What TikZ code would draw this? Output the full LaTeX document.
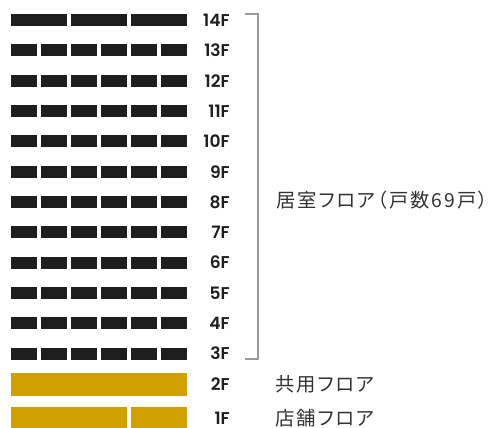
\documentclass[tikz,border=0pt]{standalone}
\usepackage{fontspec}
\setmainfont{Poppins}
\newfontfamily\labelfont{Poppins SemiBold}
\newfontfamily\jpfont[RawFeature=+palt,LetterSpace=10]{Noto Sans CJK JP}
\definecolor{bar_black}{HTML}{1E1E1E}
\definecolor{bar_gold}{HTML}{CFA000}
\definecolor{bracket_gray}{HTML}{9A9A9A}
\definecolor{text_gray}{HTML}{333333}

\begin{document}
\begin{tikzpicture}[x=0.75pt,y=-0.75pt,
    floorlabel/.style={anchor=east,inner sep=0pt,text=bar_black,font=\labelfont\fontsize{12.8}{12.8}\selectfont},
    zonelabel/.style={anchor=west,inner sep=0pt,text=text_gray,font=\jpfont\fontsize{14.5}{14.5}\selectfont}]
    \useasboundingbox (0,0) rectangle (496,428);
    % Etages 3F-13F
    \foreach \f in {3,...,13} {
        \pgfmathsetmacro{\yc}{353.5-(\f-3)*30.3}
        \foreach \i in {0,...,5}
            \fill[bar_black] (11+\i*30,\yc-6) rectangle ++(25.7,12);
        \node[floorlabel] (f\f) at (230,\yc) {\f F};
    }
    % Etage 14F
    \foreach \i in {0,1,2}
        \fill[bar_black] (11+\i*60,14) rectangle ++(55.7,12);
    \node[floorlabel] (f14) at (230,20) {14F};
    % Etages 2F et 1F
    \fill[bar_gold] (11,373) rectangle (186.7,396);
    \node[floorlabel] (f2) at (230,384.5) {2F};
    \fill[bar_gold] (11,407) rectangle (126.7,428);
    \fill[bar_gold] (131,407) rectangle (186.7,428);
    \node[floorlabel] (f1) at (230,418) {1F};
    % Accolade
    \coordinate (btop) at (245,14);
    \coordinate (bbot) at (245,359);
    \draw[bracket_gray,line width=0.9pt] (btop) -- ++(13,0) |- (bbot);
    % Textes
    \node[zonelabel] (kyoshitsu) at (276,200) {居室フロア（戸数69戸）};
    \node[zonelabel] (kyoyo) at (275,384) {共用フロア};
    \node[zonelabel] (tenpo) at (275,418) {店舗フロア};
\end{tikzpicture}
\end{document}
